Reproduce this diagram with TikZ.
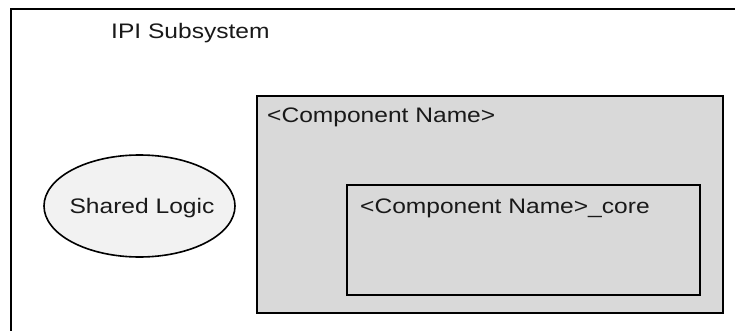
\documentclass[tikz,border=0pt]{standalone}
\usepackage{fontspec}
\setmainfont[FakeStretch=1.17]{Liberation Sans}
\usetikzlibrary{shapes.geometric}
\definecolor{compgray}{HTML}{D9D9D9}
\definecolor{ellgray}{HTML}{F2F2F2}
\tikzset{
  boxline/.style={draw=black, line width=1.6pt},
  lbl/.style={inner sep=0pt, anchor=base west, font=\fontsize{21}{25}\selectfont, text=black!90},
}
\begin{document}
\begin{tikzpicture}[x=1pt,y=-1pt]
\useasboundingbox (0,0) rectangle (735,331);
\clip (0,0) rectangle (735,331);
\fill[white] (0,0) rectangle (735,331);
% outer subsystem box (extends past the right and bottom edges)
\node[boxline, fill=white, rectangle, inner sep=0pt, anchor=north west,
      minimum width=740pt, minimum height=340pt] (outer) at (10,8) {};
\node[lbl] (outerlbl) at (111,39) {IPI Subsystem};
% component box
\node[boxline, fill=compgray, rectangle, inner sep=0pt, anchor=north west,
      minimum width=466pt, minimum height=217pt] (comp) at (256,95) {};
\node[lbl] (complbl) at (267,123) {<Component Name>};
% core box
\node[boxline, fill=compgray, rectangle, inner sep=0pt, anchor=north west,
      minimum width=353pt, minimum height=110pt] (core) at (346,184) {};
\node[lbl] (corelbl) at (360,213) {<Component Name>\_core};
% shared logic ellipse
\node[boxline, fill=ellgray, ellipse, inner sep=0pt,
      minimum width=191pt, minimum height=102pt] (shared) at (139.5,206) {};
\node[lbl, anchor=base] (sharedlbl) at (142,213) {Shared Logic};
\end{tikzpicture}
\end{document}
